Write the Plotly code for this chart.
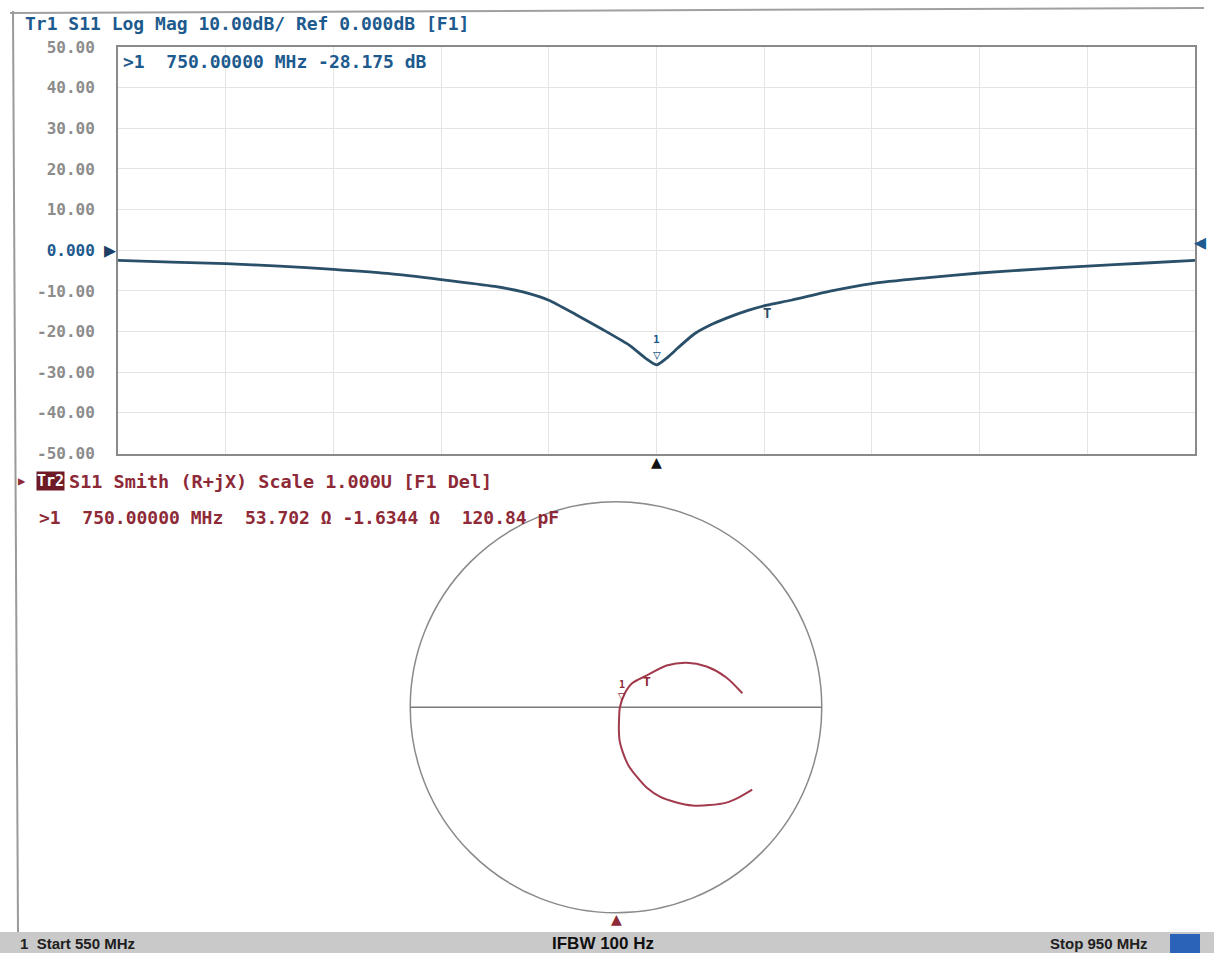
import plotly.graph_objects as go

W, H = 1214, 953

# ---------------- data ----------------
freq_mhz = [550, 570, 590, 610, 630, 650, 670, 690, 700, 710, 720, 730, 740, 746, 750,
            754, 758, 764, 770, 776, 784, 791, 800, 815, 830, 850, 870, 890, 910, 930, 950]
s11_db = [-2.5, -2.9, -3.3, -3.9, -4.7, -5.7, -7.2, -8.9, -10.2, -12.3, -15.8, -19.5, -23.4, -26.6, -28.2,
          -26.4, -24.0, -20.6, -18.4, -16.7, -14.8, -13.5, -12.3, -10.0, -8.2, -6.8, -5.6, -4.7, -3.9, -3.2, -2.5]
y_ticks = [50, 40, 30, 20, 10, 0, -10, -20, -30, -40, -50]
y_tick_labels = ["50.00", "40.00", "30.00", "20.00", "10.00", "0.000",
                 "-10.00", "-20.00", "-30.00", "-40.00", "-50.00"]

# Smith chart trace (reflection coefficient, real / imaginary)
gamma_re = [0.662, 0.600, 0.536, 0.455, 0.372, 0.290, 0.213, 0.150, 0.101, 0.060, 0.034, 0.018, 0.014,
            0.015, 0.019, 0.043, 0.077, 0.150, 0.246, 0.343, 0.440, 0.536, 0.614]
gamma_im = [-0.401, -0.437, -0.464, -0.476, -0.478, -0.462, -0.435, -0.392, -0.338, -0.282, -0.222, -0.165, -0.111,
            -0.055, 0.0, 0.068, 0.116, 0.155, 0.203, 0.217, 0.198, 0.145, 0.068]
marker1_freq, marker1_db = 750, -28.175
marker2_freq, marker2_db = 791, -13.5
marker1_gamma = (0.029, 0.048)
marker2_gamma = (0.150, 0.135)

BLUE = "#1d5a8e"
TRACE_BLUE = "#2a4f68"
RED = "#8e2a38"
TRACE_RED = "#a23a4e"
GRAY = "#8c8c8c"
MONO = "DejaVu Sans Mono"
SANS = "Liberation Sans"

# screen-pixel helpers (vertical calibrated to the rendered page)
Y0, YS = 8.0, 935.0


def px(x):
    return x / W


def py(y):
    return 1 - (y - Y0) / YS


fig = go.Figure()

fig.add_trace(go.Scatter(x=freq_mhz, y=s11_db, mode="lines",
                         line=dict(color=TRACE_BLUE, width=2.8, shape="spline", smoothing=0.6),
                         xaxis="x", yaxis="y", showlegend=False, hoverinfo="skip"))

fig.add_trace(go.Scatter(x=gamma_re, y=gamma_im, mode="lines",
                         line=dict(color=TRACE_RED, width=2, shape="spline", smoothing=0.8),
                         xaxis="x2", yaxis="y2", showlegend=False, hoverinfo="skip"))

tick_text = [f"<span style='color:{BLUE}'>{t}</span>" if v == 0 else t
             for t, v in zip(y_tick_labels, y_ticks)]

fig.update_layout(
    width=W, height=H,
    margin=dict(l=0, r=0, t=0, b=0),
    paper_bgcolor="white", plot_bgcolor="white",
    font=dict(family=MONO, size=16, color=GRAY, weight="bold"),
    xaxis=dict(domain=[px(118), px(1195)], range=[550, 950], dtick=40, tick0=550,
               showgrid=True, gridcolor="#e4e4e4", gridwidth=1, showticklabels=False,
               ticks="", zeroline=False, showline=True, mirror=True,
               linecolor="#8a8a8a", linewidth=2),
    yaxis=dict(domain=[py(453), py(46)], range=[-50, 50], tickvals=y_ticks, ticktext=tick_text,
               showgrid=True, gridcolor="#e4e4e4", gridwidth=1, ticks="", zeroline=False,
               showline=True, mirror=True, linecolor="#8a8a8a", linewidth=2,
               ticklabelstandoff=18, tickfont=dict(family=MONO, size=16, color=GRAY, weight="bold")),
    xaxis2=dict(domain=[px(402), px(830)], range=[-1.04, 1.04], visible=False),
    yaxis2=dict(domain=[py(921), py(493)], range=[-1.04, 1.04], visible=False),
)

shapes = [
    # outer frame lines
    dict(type="line", xref="paper", yref="paper", x0=px(10), x1=px(1204), y0=py(12), y1=py(7),
         line=dict(color="#a0a0a0", width=2)),
    dict(type="line", xref="paper", yref="paper", x0=px(13), x1=px(18), y0=py(10), y1=py(932),
         line=dict(color="#9a9a9a", width=2)),
    # status bar
    dict(type="rect", xref="paper", yref="paper", x0=0, x1=1, y0=-0.05, y1=py(932),
         fillcolor="#c9c9c9", line=dict(width=0), layer="below"),
    dict(type="rect", xref="paper", yref="paper", x0=px(1170), x1=px(1200), y0=py(953), y1=py(934),
         fillcolor="#2a63b8", line=dict(width=0)),
    # Smith chart outer circle and real axis
    dict(type="circle", xref="x2", yref="y2", x0=-1, x1=1, y0=-1, y1=1,
         line=dict(color="#8a8a8a", width=1.5), layer="below"),
    dict(type="line", xref="x2", yref="y2", x0=-1, x1=1, y0=0, y1=0,
         line=dict(color="#7a7a7a", width=1.5), layer="below"),
]
fig.update_layout(shapes=shapes)

ann = []


def text(x, y, s, color, size=16, xanchor="left", weight="bold", family=MONO, **kw):
    ann.append(dict(x=x, y=y, xref="paper", yref="paper", text=s, showarrow=False,
                    xanchor=xanchor, yanchor="middle",
                    font=dict(family=family, size=size, color=color, weight=weight), **kw))


# headers
text(px(23), py(23), "Tr1 S11 Log Mag 10.00dB/ Ref 0.000dB [F1]", BLUE, size=18)
text(px(121), py(61), "&gt;1  750.00000 MHz -28.175 dB", BLUE, size=18)
text(px(16), py(481), "▶", RED, size=12)
text(px(36), py(481), "Tr2", "white", size=15, bgcolor="#6e1a26", borderpad=0)
text(px(67), py(481), "S11 Smith (R+jX) Scale 1.000U [F1 Del]", RED, size=18.5)
text(px(37), py(517), "&gt;1  750.00000 MHz  53.702 Ω -1.6344 Ω  120.84 pF", RED, size=18)

# status bar
text(px(18), py(943), "1  Start 550 MHz", "#202020", size=15, family=SANS)
text(px(603), py(943), "IFBW 100 Hz", "#101010", size=17, xanchor="center", family=SANS)
text(px(1150), py(943), "Stop 950 MHz", "#202020", size=15, xanchor="right", family=SANS)


# data-anchored markers
def dtext(x, y, xr, yr, s, color, size=14, xshift=0, yshift=0):
    ann.append(dict(x=x, y=y, xref=xr, yref=yr, text=s, showarrow=False,
                    xanchor="center", yanchor="middle", xshift=xshift, yshift=yshift,
                    font=dict(family=MONO, size=size, color=color, weight="bold")))


dtext(marker1_freq, marker1_db, "x", "y", "▽", BLUE, size=13, yshift=10)
dtext(marker1_freq, marker1_db, "x", "y", "1", BLUE, size=11, yshift=25)
dtext(marker2_freq, marker2_db, "x", "y", "T", TRACE_BLUE, size=14, yshift=-8)
dtext(550, 0, "x", "y", "▶", "#1d3f66", size=20, xshift=-8)
dtext(950, 2, "x", "y", "◀", BLUE, size=20, xshift=5)
dtext(750, -50, "x", "y", "▲", "#111111", size=18, yshift=-8)

dtext(marker1_gamma[0], marker1_gamma[1], "x2", "y2", "▽", RED, size=12, yshift=1)
dtext(marker1_gamma[0], marker1_gamma[1], "x2", "y2", "1", RED, size=10, yshift=13)
dtext(marker2_gamma[0], marker2_gamma[1], "x2", "y2", "T", RED, size=13, yshift=-2)
dtext(0, -1, "x2", "y2", "▲", RED, size=18, yshift=-6)

fig.update_layout(annotations=ann)

post = ("document.documentElement.style.margin='0';document.body.style.margin='0';"
        "document.body.style.padding='0';document.documentElement.style.overflow='hidden';"
        "document.body.style.overflow='hidden';"
        "document.documentElement.style.minHeight='100vh';"
        "document.documentElement.style.background='linear-gradient(to bottom,#ffffff 0%,#ffffff 50%,#c9c9c9 50%,#c9c9c9 100%)';"
        "var gd=document.getElementById('{plot_id}');"
        "if(gd){gd.style.position='fixed';gd.style.top='0px';gd.style.left='0px';gd.style.margin='0';}"
        "if(gd&&gd.parentElement){gd.parentElement.style.margin='0';}")
fig.write_html("out.html", post_script=post, config={"displayModeBar": False})
